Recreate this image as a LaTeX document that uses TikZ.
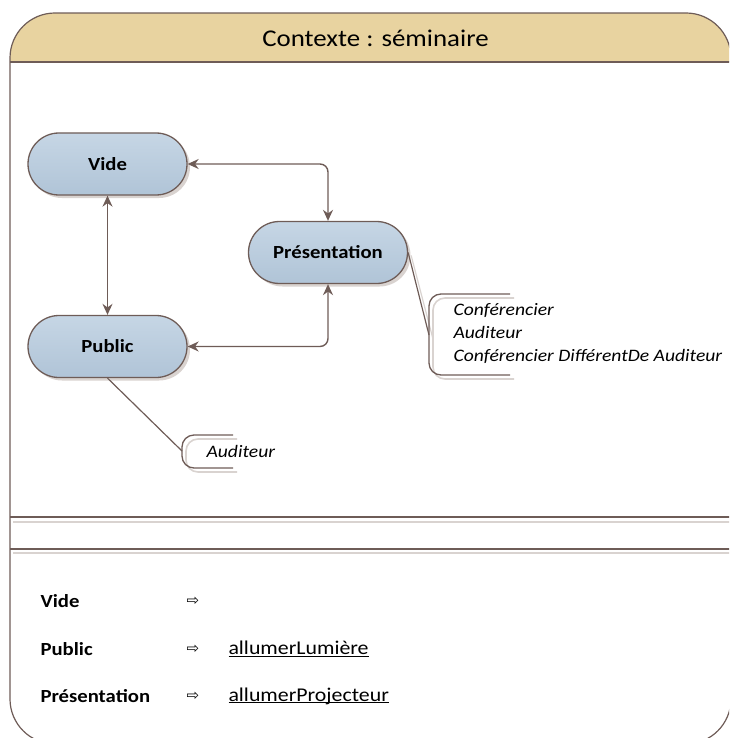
\documentclass[tikz,border=0pt]{standalone}
\usepackage{fontspec}
\setmainfont{Carlito}[FakeStretch=1.12]
\newfontfamily\symfont{DejaVu Sans}
\usetikzlibrary{arrows.meta,shadows}
\definecolor{brn}{HTML}{6E5C57}
\definecolor{hdr}{HTML}{E8D3A0}
\definecolor{shd}{HTML}{D9D3D0}
\definecolor{ntop}{HTML}{C6D6E5}
\definecolor{nbot}{HTML}{B0C4D7}
\newcommand{\ulact}[1]{\underline{\smash{#1}}\vphantom{#1}}
\tikzset{
  stnode/.style={draw=brn, line width=1.3pt, rounded corners=31pt, minimum width=159pt, minimum height=62pt,
    top color=ntop, bottom color=nbot, font=\fontsize{18.5}{21}\selectfont\bfseries,
    drop shadow={shadow xshift=3pt, shadow yshift=-3pt, fill=shd, opacity=1}},
  conn/.style={draw=brn, line width=1.4pt, {Stealth[length=11pt,width=10pt]}-{Stealth[length=11pt,width=10pt]}, rounded corners=8pt},
  brk/.style={draw=brn, line width=1.3pt, rounded corners=12pt},
  brkshd/.style={draw=shd, line width=1.6pt, rounded corners=12pt},
  tagtext/.style={anchor=west, align=left, font=\itshape\fontsize{17.5}{23}\selectfont},
  rowlabel/.style={anchor=west, font=\bfseries\fontsize{18.5}{21}\selectfont},
  rowarrow/.style={font=\symfont\fontsize{15}{17}\selectfont},
  rowact/.style={anchor=west, font=\fontsize{19.5}{22}\selectfont},
}
\begin{document}
\begin{tikzpicture}[x=1pt,y=-1pt]
\useasboundingbox (0,0) rectangle (729,738);
\clip (0,0) rectangle (729,738);
% frame
\begin{scope}
\clip[rounded corners=45pt] (10,13) rectangle (731,744);
\fill[hdr] (10,13) rectangle (731,62);
\end{scope}
\draw[brn, line width=1.2pt, rounded corners=45pt] (10,13) rectangle (731,744);
\draw[brn, line width=1.2pt] (10,62) -- (731,62);
\node (title) at (375.5,38) {\fontsize{24}{28}\selectfont Contexte : séminaire};
% separators
\draw[brn, line width=1.2pt] (10,517) -- (731,517);
\draw[shd, line width=1.8pt] (13,522) -- (731,522);
\draw[brn, line width=1.2pt] (10,549) -- (731,549);
\draw[shd, line width=1.8pt] (13,553) -- (731,553);
% states
\node[stnode] (vide) at (107.5,164) {Vide};
\node[stnode] (pres) at (328,252.5) {Présentation};
\node[stnode] (public) at (107.5,346.5) {Public};
% transitions
\draw[conn] (vide.east) -| (pres.north);
\draw[conn] (public.east) -| (pres.south);
\draw[conn] (vide.south) -- (public.north);
% annotation for Présentation
\coordinate (pb) at (429,335);
\coordinate (pbshd) at (433,339);
\draw[shd, line width=1.2pt] ([xshift=3pt,yshift=-3pt]pres.east) -- (pbshd);
\draw[brkshd] (514,298) -| (433,379) -- (514,379);
\draw[brn, line width=1.2pt] (pres.east) -- (pb);
\draw[brk] (510,294) -| (429,375) -- (510,375);
\node[tagtext] (prestags) at (450,334) {Conférencier\\Auditeur\\Conférencier DifférentDe Auditeur};
% annotation for Public
\coordinate (ub) at (182,451);
\coordinate (ubshd) at (186,455);
\draw[brkshd] (237,439) -| (186,472) -- (237,472);
\draw[brn, line width=1.2pt] (public.south) -- (ub);
\draw[brk] (233,435) -| (182,468) -- (233,468);
\node[tagtext] (pubtags) at (203,451) {Auditeur};
% table
\node[rowlabel] (lv) at (37,601) {Vide};
\node[rowarrow] (av) at (193,601) {⇨};
\node[rowlabel] (lp) at (37,649) {Public};
\node[rowarrow] (ap) at (193,649) {⇨};
\node[rowact] (actp) at (225,649) {\ulact{allumerLumière}};
\node[rowlabel] (lpr) at (37,696) {Présentation};
\node[rowarrow] (apr) at (193,696) {⇨};
\node[rowact] (actpr) at (225,696) {\ulact{allumerProjecteur}};
\end{tikzpicture}
\end{document}
